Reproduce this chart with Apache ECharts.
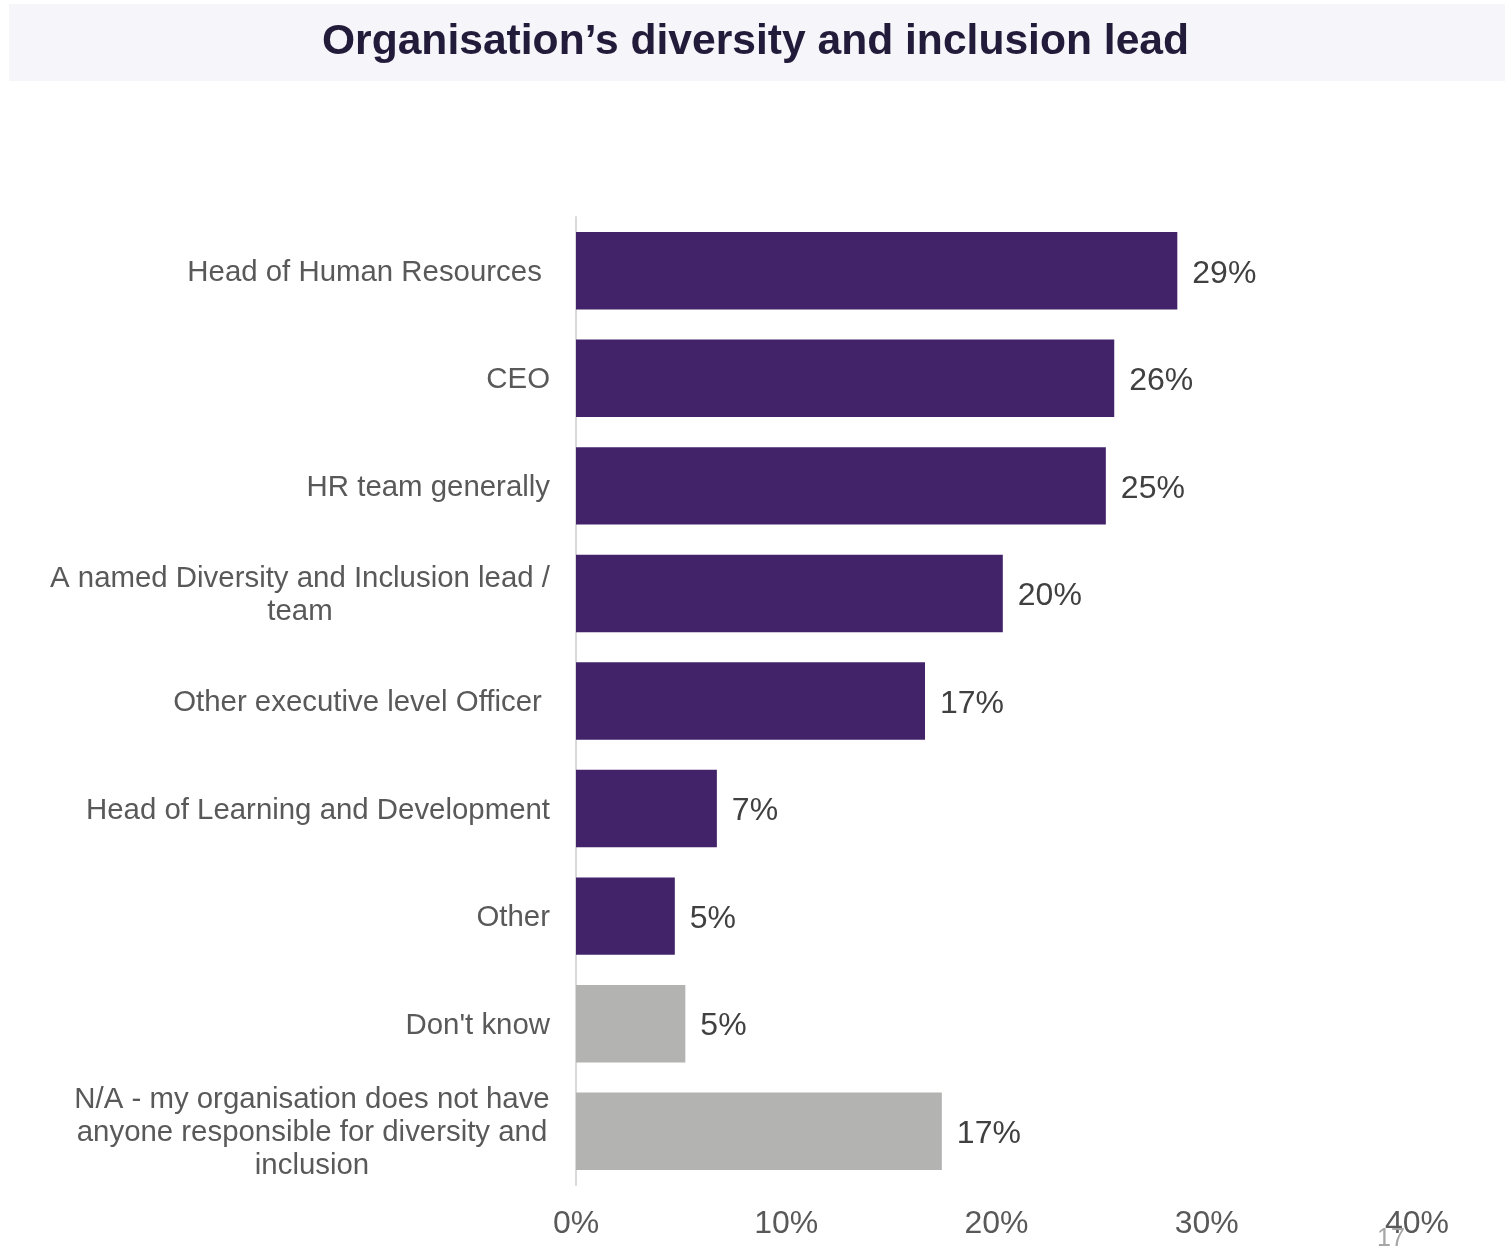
<!DOCTYPE html>
<html>
<head>
<meta charset="utf-8">
<title>Organisation's diversity and inclusion lead</title>
<script src="https://cdn.jsdelivr.net/npm/echarts@6/dist/echarts.min.js"></script>
<style>
  html, body { margin: 0; padding: 0; background: #ffffff; }
  #chart { width: 1511px; height: 1254px; }
</style>
</head>
<body>
<div id="chart"></div>
<script>
// Survey answers, top to bottom
const categories = [
  'Head of Human Resources ',
  'CEO',
  'HR team generally',
  'A named Diversity and Inclusion lead /\nteam',
  'Other executive level Officer ',
  'Head of Learning and Development',
  'Other',
  "Don't know",
  'N/A - my organisation does not have\nanyone responsible for diversity and\ninclusion'
];
// Share of respondents, percent
const shares = [28.6, 25.6, 25.2, 20.3, 16.6, 6.7, 4.7, 5.2, 17.4];
// Answers that are not a named role, drawn in grey
const nonRoleAnswers = ["Don't know", 'N/A - my organisation does not have\nanyone responsible for diversity and\ninclusion'];
const xTicks = [0, 10, 20, 30, 40];
const pageNumber = '17';

const FONT = 'Liberation Sans, Arial, sans-serif';
const CAT_SIZE = 29.4;

// Multi-line labels are centred line by line inside a box as wide as their longest line
const measureCtx = document.createElement('canvas').getContext('2d');
measureCtx.font = CAT_SIZE + 'px ' + FONT;
const rich = {};
categories.forEach(function (c, i) {
  if (c.indexOf('\n') >= 0) {
    const w = Math.max.apply(null, c.split('\n').map(function (l) { return measureCtx.measureText(l).width; }));
    rich['m' + i] = { width: Math.ceil(w), align: 'center', fontSize: CAT_SIZE, lineHeight: 33, color: '#595959', fontFamily: FONT };
  }
});

const chart = echarts.init(document.getElementById('chart'), null, { renderer: 'canvas' });

chart.setOption({
  backgroundColor: '#ffffff',
  animation: false,
  graphic: [{
    type: 'rect',
    shape: { x: 9, y: 4, width: 1496, height: 77 },
    style: { fill: '#f5f5fa' },
    z: 0
  }],
  title: [{
    text: "Organisation\u2019s diversity and inclusion lead",
    left: 'center',
    top: 16,
    textStyle: { fontFamily: FONT, fontSize: 42.6, fontWeight: 'bold', color: '#221c3a' },
    z: 5
  }, {
    text: pageNumber,
    left: 1372,
    top: 1222,
    textStyle: { fontFamily: FONT, fontSize: 25, fontWeight: 'normal', color: '#a6a6a6' }
  }],
  grid: { left: 576, right: 94, top: 217, bottom: 69, containLabel: false },
  xAxis: {
    type: 'value',
    min: xTicks[0],
    max: xTicks[xTicks.length - 1],
    interval: xTicks[1] - xTicks[0],
    axisLine: { show: false },
    axisTick: { show: false },
    splitLine: { show: false },
    axisLabel: {
      formatter: '{value}%',
      margin: 23,
      fontFamily: FONT,
      fontSize: 32,
      color: '#595959'
    }
  },
  yAxis: {
    type: 'category',
    inverse: true,
    data: categories,
    axisLine: { show: true, lineStyle: { color: '#d9d9d9', width: 2 } },
    axisTick: { show: false },
    axisLabel: {
      margin: 26,
      padding: [4, 0, 0, 0],
      fontFamily: FONT,
      fontSize: CAT_SIZE,
      lineHeight: 33,
      color: '#595959',
      rich: rich,
      formatter: function (value) {
        if (value.indexOf('\n') < 0) return value;
        const i = categories.indexOf(value);
        return value.split('\n').map(function (l) { return '{m' + i + '|' + l + '}'; }).join('\n');
      }
    }
  },
  series: [{
    type: 'bar',
    data: shares,
    barCategoryGap: '28%',
    itemStyle: {
      color: function (p) {
        return nonRoleAnswers.indexOf(categories[p.dataIndex]) >= 0 ? '#b3b4b2' : '#42236a';
      }
    },
    label: {
      show: true,
      position: 'right',
      distance: 15,
      offset: [0, 3],
      fontFamily: FONT,
      fontSize: 32,
      color: '#404040',
      formatter: function (p) { return Math.round(p.value) + '%'; }
    }
  }]
});
</script>
</body>
</html>
